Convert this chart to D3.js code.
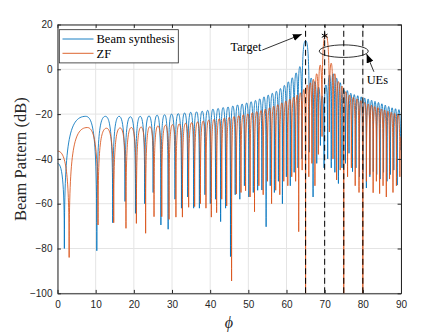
<!DOCTYPE html>
<html><head><meta charset="utf-8">
<script src="https://cdn.jsdelivr.net/npm/d3@7"></script>
<style>body{margin:0;background:#fff}svg{display:block}</style>
</head><body>
<svg id="c" width="443" height="332"></svg>
<script>
// ---------------- data ----------------
const xTicks = [0,10,20,30,40,50,60,70,80,90];
const yTicks = [-100,-80,-60,-40,-20,0,20];
const seriesNames = ["Beam synthesis","ZF"];

// Beam synthesis: value at phi=0, null positions/depths, lobe peaks, value at phi=90
const bsStartDb = -42;
const bsEndDb = -36;
const bsNullPhi = [1.8,10.30,14.47,17.69,20.43,22.85,25.06,27.09,28.99,30.78,32.48,34.11,35.67,37.18,38.63,40.04,41.41,42.74,44.04,45.32,46.56,47.77,48.97,50.14,51.30,52.44,53.55,54.66,55.74,56.82,57.88,58.93,59.96,60.99,62.01,63.01,64.01,65.98,66.96,67.92,68.89,69.84,70.79,71.73,72.67,73.60,74.53,75.46,76.38,77.30,78.21,79.12,80.03,80.93,81.84,82.74,83.64,84.54,85.43,86.33,87.22,88.12,89.01,89.90];
const bsNullDb = [-80,-81,-68.5,-59,-64.3,-60,-55,-69.5,-71.4,-58,-62,-57,-62,-62,-56,-60,-58,-68,-62,-83.6,-56,-58,-52,-57,-55,-54,-53.9,-70.3,-52,-55,-50,-60,-48,-52,-46,-44,-40,-37,-57,-42,-34,-44,-40,-44,-46,-51,-44,-42,-37.5,-45.7,-44,-48,-46,-53,-48,-45.7,-47,-49,-46,-50,-47,-45,-51.7,-36];
const bsPeakDb = [-21,-21,-21,-21.2,-21,-20.8,-20.5,-20.3,-20,-19.8,-19.5,-19.2,-19,-18.7,-18.3,-17.8,-17.5,-17.1,-16.8,-16.4,-15.9,-15.5,-15.0,-14.5,-13.9,-13.2,-12.3,-11.5,-10.7,-9.8,-8.6,-7.2,-5.6,-3.8,-1.6,1.2,
  12.8,
  -3.9,-5.5,-8,-12,-7,-2.5,-2,-4,-6,-9,-9.5,-10.7,-11.3,-11.8,-12.3,-12.8,-13.3,-13.8,-14.3,-14.8,-15.4,-16,-16.6,-17.2,-17.6,-18];

// ZF
const zfStartDb = -36.5;
const zfEndDb = -30;
const zfNullPhi = [3.05,10.62,14.73,17.94,20.67,23.09,25.29,27.32,29.23,31.03,32.73,34.36,35.93,37.44,38.90,40.31,41.69,43.03,44.33,45.61,46.86,48.08,49.28,50.46,51.62,52.76,53.89,55.00,56.09,57.17,58.24,59.29,60.34,61.37,62.39,63.2,64.1,65.0,65.85,66.65,67.45,68.35,69.31,71.23,72.18,73.12,74.07,75.0,76.0,77.0,78.0,79.0,80.0,80.95,81.85,82.7,83.55,84.4,85.3,86.15,87.0,87.9,88.8,89.7];
const zfNullDb = [-84,-69.5,-68.5,-71,-68.8,-73.2,-65.8,-65.8,-67,-66,-66,-61.6,-61.3,-60,-62,-66,-64,-58,-61,-94.5,-55.7,-55,-54.2,-57,-63.6,-52,-56,-50,-60,-54,-56,-50,-52,-48,-50,-72.5,-45,-120,-48,-42,-52,-38,-30,-28,-40,-49.4,-45,-120,-48,-44,-52,-55,-120,-50,-47,-55.1,-50,-55.5,-52,-57,-49,-55,-52,-48];
const zfPeakDb = [-26,-26.3,-26.2,-26,-25.8,-25.6,-25.3,-25,-24.7,-24.4,-24.1,-23.8,-23.5,-23.1,-22.7,-22.4,-22.1,-21.8,-21.5,-21.1,-20.7,-20.3,-19.9,-19.4,-18.9,-18.4,-17.8,-17.2,-16.5,-15.8,-15,-14.2,-13.3,-12.4,-11.5,-10.5,-9,-7,-6,-4.5,-2,1.9,
  15.3,
  2.7,-2,-5.5,-7.5,-10,-11.5,-12.5,-13.2,-14,-14.8,-15.5,-16,-16.6,-17.1,-17.7,-18.2,-18.7,-19.2,-19.7,-20.1];

// target / UE angles and annotations
const ueLines = [65,70,75,80];
const starPoint = {phi:70, db:15};
const targetLabel = {text:"Target", phi:53.4, db:8.0};
const targetArrow = {from:[53.65,8.6], to:[63.98,15.6]};
const ueEllipse = {phi:75, db:8.1, rPhi:6.42, rDb:2.8};
const ueArrow = {from:[82.9,-1.1], to:[81.0,6.8]};
const ueLabel = {text:"UEs", phi:81.0, db:-6.4};

// ---------------- drawing ----------------
const blue = "#0072BD", orange = "#D95319", ink = "#262626";
const X0 = 57.5, X1 = 401, YB = 293.3, YT = 24.5;
const x = d3.scaleLinear().domain([0,90]).range([X0,X1]);
const y = d3.scaleLinear().domain([-100,20]).range([YB,YT]);
const svg = d3.select("#c");
const defs = svg.append("defs");
defs.append("clipPath").attr("id","clip").append("rect")
  .attr("x",X0).attr("y",YT).attr("width",X1-X0).attr("height",YB-YT);
defs.append("marker").attr("id","ah").attr("viewBox","0 0 10 8")
  .attr("refX",10).attr("refY",4).attr("markerWidth",9).attr("markerHeight",7)
  .attr("markerUnits","userSpaceOnUse").attr("orient","auto")
  .append("path").attr("d","M0,0L10,4L0,8z").attr("fill","#000");

// grid
const grid = svg.append("g").attr("stroke","#e4e4e4").attr("stroke-width",1);
grid.selectAll(".gx").data(xTicks).join("line")
  .attr("x1",d=>x(d)).attr("x2",d=>x(d)).attr("y1",YB).attr("y2",YT);
grid.selectAll(".gy").data(yTicks).join("line")
  .attr("y1",d=>y(d)).attr("y2",d=>y(d)).attr("x1",X0).attr("x2",X1);

// lobe-shaped path: vertical at nulls, flat at peaks
const rad = Math.PI/180;
function ascend(p, nPhi, nDb, pPhi, pDb){
  const drop = Math.min(12, 0.6*(pDb-nDb));
  p.bezierCurveTo(x(nPhi), y(pDb-drop), x(nPhi+0.2*(pPhi-nPhi)), y(pDb), x(pPhi), y(pDb));
}
function descend(p, pPhi, pDb, nPhi, nDb){
  const drop = Math.min(12, 0.6*(pDb-nDb));
  p.bezierCurveTo(x(nPhi-0.2*(nPhi-pPhi)), y(pDb), x(nPhi), y(pDb-drop), x(nPhi), y(nDb));
}
function lobePath(startDb, nullPhi, nullDb, peakDb, endDb){
  const p = d3.path();
  p.moveTo(x(0), y(startDb));
  descend(p, 0, startDb, nullPhi[0], nullDb[0]);
  for (let i=0;i<nullPhi.length-1;i++){
    const a = nullPhi[i], b = nullPhi[i+1];
    const mid = Math.acos((Math.cos(a*rad)+Math.cos(b*rad))/2)/rad;
    ascend(p, a, nullDb[i], mid, peakDb[i]);
    descend(p, mid, peakDb[i], b, nullDb[i+1]);
  }
  const L = nullPhi.length-1;
  ascend(p, nullPhi[L], nullDb[L], 90, endDb);
  return p.toString();
}

const plot = svg.append("g").attr("clip-path","url(#clip)");
plot.append("path").attr("d", lobePath(bsStartDb, bsNullPhi, bsNullDb, bsPeakDb, bsEndDb))
  .attr("fill","none").attr("stroke",blue).attr("stroke-width",0.85).attr("stroke-linejoin","round");
plot.append("path").attr("d", lobePath(zfStartDb, zfNullPhi, zfNullDb, zfPeakDb, zfEndDb))
  .attr("fill","none").attr("stroke",orange).attr("stroke-width",0.85).attr("stroke-linejoin","round");

// dashed target/UE lines
plot.selectAll(".ue").data(ueLines).join("line")
  .attr("x1",d=>x(d)).attr("x2",d=>x(d)).attr("y1",y(-100)).attr("y2",y(20))
  .attr("stroke","#000").attr("stroke-width",1).attr("stroke-dasharray","6,3.5");

// star marker
svg.append("path").attr("transform",`translate(${x(starPoint.phi)},${y(starPoint.db)})`)
  .attr("d", d3.symbol(d3.symbolAsterisk, 30)()).attr("fill","none")
  .attr("stroke","#000").attr("stroke-width",1);

// annotations
const serif = "'Liberation Serif','Times New Roman',serif";
svg.append("text").attr("x",x(targetLabel.phi)).attr("y",y(targetLabel.db))
  .attr("text-anchor","end").attr("font-family",serif).attr("font-size",12.2)
  .attr("fill","#000").text(targetLabel.text);
svg.append("line").attr("x1",x(targetArrow.from[0])).attr("y1",y(targetArrow.from[1]))
  .attr("x2",x(targetArrow.to[0])).attr("y2",y(targetArrow.to[1]))
  .attr("stroke","#000").attr("stroke-width",0.8).attr("marker-end","url(#ah)");
svg.append("ellipse").attr("cx",x(ueEllipse.phi)).attr("cy",y(ueEllipse.db))
  .attr("rx",x(ueEllipse.phi+ueEllipse.rPhi)-x(ueEllipse.phi))
  .attr("ry",y(ueEllipse.db-ueEllipse.rDb)-y(ueEllipse.db))
  .attr("fill","none").attr("stroke","#000").attr("stroke-width",0.8);
svg.append("line").attr("x1",x(ueArrow.from[0])).attr("y1",y(ueArrow.from[1]))
  .attr("x2",x(ueArrow.to[0])).attr("y2",y(ueArrow.to[1]))
  .attr("stroke","#000").attr("stroke-width",0.8).attr("marker-end","url(#ah)");
svg.append("text").attr("x",x(ueLabel.phi)).attr("y",y(ueLabel.db))
  .attr("font-family",serif).attr("font-size",12.4).attr("fill","#000").text(ueLabel.text);

// axes (box with inward ticks)
function styleAxis(g){
  g.selectAll("path.domain").attr("stroke",ink).attr("stroke-width",1);
  g.selectAll(".tick line").attr("stroke",ink).attr("stroke-width",1);
  g.selectAll(".tick text").attr("fill",ink).attr("font-family","'Liberation Sans',Arial,Helvetica,sans-serif").attr("font-size",10);
}
svg.append("g").attr("transform",`translate(0,${YB})`)
  .call(d3.axisBottom(x).tickValues(xTicks).tickSizeInner(-3.4).tickSizeOuter(0).tickPadding(8)).call(styleAxis);
svg.append("g").attr("transform",`translate(0,${YT})`)
  .call(d3.axisTop(x).tickValues(xTicks).tickSizeInner(-3.4).tickSizeOuter(0).tickFormat(()=>"")).call(styleAxis);
svg.append("g").attr("transform",`translate(${X0},0)`)
  .call(d3.axisLeft(y).tickValues(yTicks).tickSizeInner(-3.4).tickSizeOuter(0).tickPadding(5)).call(styleAxis);
svg.append("g").attr("transform",`translate(${X1},0)`)
  .call(d3.axisRight(y).tickValues(yTicks).tickSizeInner(-3.4).tickSizeOuter(0).tickFormat(()=>"")).call(styleAxis);

// axis labels
svg.append("text").attr("transform","translate(25.5,159.2) rotate(-90)")
  .attr("text-anchor","middle").attr("font-family",serif).attr("font-size",16.5)
  .attr("fill",ink).text("Beam Pattern (dB)");
svg.append("text").attr("x",229).attr("y",327.5).attr("text-anchor","middle")
  .attr("font-family","'Liberation Serif','DejaVu Serif',serif").attr("font-style","italic")
  .attr("font-size",16).attr("fill",ink).text("\u03D5");

// legend
const leg = svg.append("g");
leg.append("rect").attr("x",59.3).attr("y",29.7).attr("width",119).attr("height",33.2)
  .attr("fill","#fff").attr("stroke",ink).attr("stroke-width",0.8);
const legColors = [blue, orange];
seriesNames.forEach((name,i)=>{
  const cy = 39 + i*14.3;
  leg.append("line").attr("x1",62.5).attr("x2",93.5).attr("y1",cy).attr("y2",cy)
    .attr("stroke",legColors[i]).attr("stroke-width",0.9);
  leg.append("text").attr("x",96.5).attr("y",cy+4.3).attr("font-family",serif)
    .attr("font-size",12.5).attr("fill","#000").text(name);
});
</script>
</body></html>
